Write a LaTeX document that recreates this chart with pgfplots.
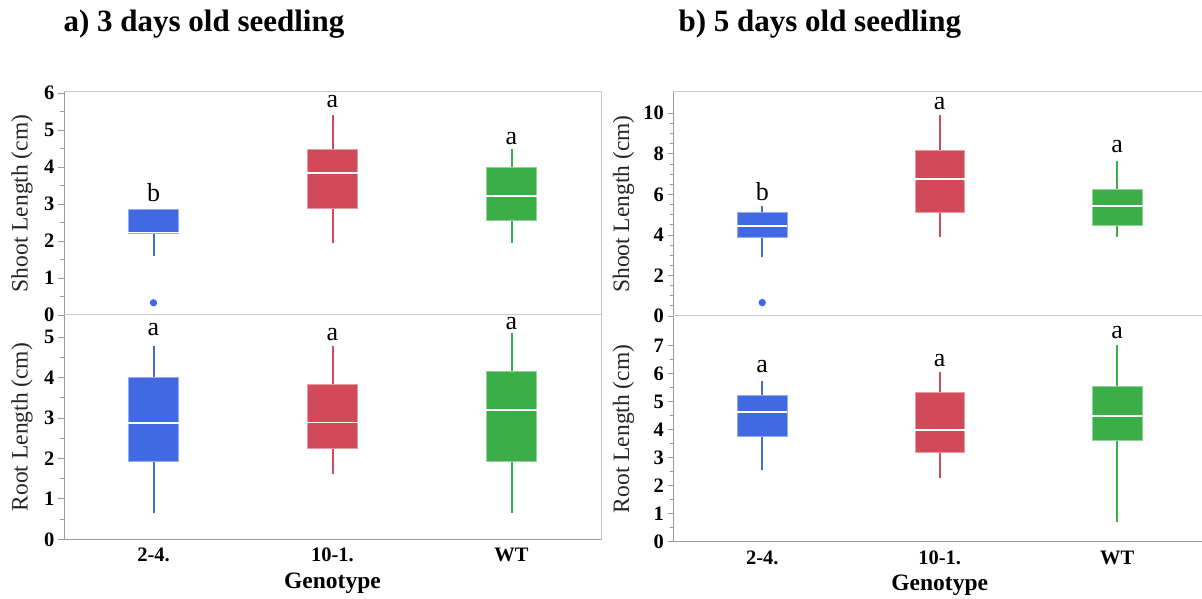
\documentclass[border=0pt]{standalone}
\usepackage{fontspec}
\setmainfont{Liberation Serif}
\usepackage{pgfplots}
\pgfplotsset{compat=1.18}
\usepgfplotslibrary{statistics}

\definecolor{cBlue}{RGB}{65,105,225}
\definecolor{cRed}{RGB}{210,74,90}
\definecolor{cGreen}{RGB}{60,174,72}
\definecolor{spine}{RGB}{155,155,155}
\definecolor{frame}{RGB}{200,200,200}

\newcommand{\ticksize}{\bfseries\fontsize{20.5}{20.5}\selectfont}
\newcommand{\labsize}{\fontsize{23.5}{23.5}\selectfont}
\newcommand{\letsize}{\fontsize{26}{26}\selectfont}

\pgfplotsset{
  seedling/.style={
    scale only axis,
    clip=false,
    xmin=-0.5, xmax=2.5,
    ymin=0,
    axis line style={draw=frame, line width=1pt},
    tick style={draw=spine, line width=0.8pt},
    tick align=outside,
    major tick length=6pt, minor tick length=4pt,
    ytick pos=left,
    xtick pos=bottom,
    minor y tick num=1,
    /pgf/number format/assume math mode=true,
    yticklabel style={font=\ticksize, text=black},
    every axis y label/.style={at={(rel axis cs:0,0.5)}, rotate=90,
      anchor=center, font=\labsize, text=black!85},
    boxplot/draw direction=y,
    boxplot/box extend=0.28,
    boxplot/whisker extend=0,
    boxplot/every median/.style={draw=white, line width=1.8pt},
  },
  shootaxis/.style={seedling, xtick=\empty},
  rootaxis/.style={seedling,
    xtick={0,1,2}, xticklabels={2-4.,10-1.,WT},
    major x tick style={draw=none},
    xticklabel style={font=\ticksize, anchor=center, yshift=-10pt},
    xlabel={\bfseries Genotype},
    every axis x label/.style={at={(rel axis cs:0.5,0)}, anchor=center,
      yshift=-44pt, font=\labsize},
  },
  bx/.style={draw=#1, fill=#1, line width=2pt,
    mark=*, mark size=2.6pt, mark options={fill=#1, draw=none},
    boxplot/every box/.style={fill=#1, draw=#1!55!white, line width=0.6pt}},
}

\begin{document}
\begin{tikzpicture}
\useasboundingbox (0pt,0pt) rectangle (1202pt,599pt);

% panel titles
\node[anchor=west, font=\bfseries\fontsize{31}{31}\selectfont] at (60pt,575pt) {a) 3 days old seedling};
\node[anchor=west, font=\bfseries\fontsize{31}{31}\selectfont] at (675pt,575pt) {b) 5 days old seedling};

% ---------- a) shoot length, day 3 ----------
\begin{axis}[shootaxis, at={(64pt,284pt)}, anchor=south west,
  width=537pt, height=223pt, ymax=6.03, ytick={0,...,6},
  ylabel={Shoot Length (cm)}, ylabel style={yshift=42pt}]
  \addplot[bx=cBlue, boxplot prepared={draw position=0,
    lower whisker=1.6, lower quartile=2.2, median=2.23,
    upper quartile=2.86, upper whisker=2.86}] coordinates {(0,0.33)};
  \addplot[bx=cRed, boxplot prepared={draw position=1,
    lower whisker=1.94, lower quartile=2.88, median=3.85,
    upper quartile=4.48, upper whisker=5.42}] coordinates {};
  \addplot[bx=cGreen, boxplot prepared={draw position=2,
    lower whisker=1.94, lower quartile=2.57, median=3.22,
    upper quartile=3.99, upper whisker=4.48}] coordinates {};
  \draw[spine, line width=1pt] (rel axis cs:0,0) -- (rel axis cs:0,1);
  \node[font=\letsize] at (axis cs:0,3.32) {b};
  \node[font=\letsize] at (axis cs:1,5.76) {a};
  \node[font=\letsize] at (axis cs:2,4.77) {a};
\end{axis}

% ---------- a) root length, day 3 ----------
\begin{axis}[rootaxis, at={(64pt,59.7pt)}, anchor=south west,
  width=537pt, height=224.3pt, ymax=5.55, ytick={0,...,5},
  ylabel={Root Length (cm)}, ylabel style={yshift=42pt}]
  \addplot[bx=cBlue, boxplot prepared={draw position=0,
    lower whisker=0.66, lower quartile=1.94, median=2.87,
    upper quartile=4.0, upper whisker=4.78}] coordinates {};
  \addplot[bx=cRed, boxplot prepared={draw position=1,
    lower whisker=1.61, lower quartile=2.25, median=2.89,
    upper quartile=3.83, upper whisker=4.78}] coordinates {};
  \addplot[bx=cGreen, boxplot prepared={draw position=2,
    lower whisker=0.66, lower quartile=1.94, median=3.2,
    upper quartile=4.16, upper whisker=5.11}] coordinates {};
  \draw[spine, line width=1pt] (rel axis cs:0,1) -- (rel axis cs:0,0) -- (rel axis cs:1,0);
  \node[font=\letsize] at (axis cs:0,5.18) {a};
  \node[font=\letsize] at (axis cs:1,5.07) {a};
  \node[font=\letsize] at (axis cs:2,5.35) {a};
\end{axis}

% ---------- b) shoot length, day 5 ----------
\begin{axis}[shootaxis, at={(673.5pt,283pt)}, anchor=south west,
  width=532.5pt, height=224pt, ymax=11.05, ytick={0,2,...,10},
  minor y tick num=3,
  ylabel={Shoot Length (cm)}, ylabel style={yshift=50pt}]
  \addplot[bx=cBlue, boxplot prepared={draw position=0,
    lower whisker=2.93, lower quartile=3.88, median=4.45,
    upper quartile=5.11, upper whisker=5.43}] coordinates {(0,0.66)};
  \addplot[bx=cRed, boxplot prepared={draw position=1,
    lower whisker=3.88, lower quartile=5.13, median=6.74,
    upper quartile=8.16, upper whisker=9.92}] coordinates {};
  \addplot[bx=cGreen, boxplot prepared={draw position=2,
    lower whisker=3.88, lower quartile=4.49, median=5.44,
    upper quartile=6.25, upper whisker=7.66}] coordinates {};
  \draw[spine, line width=1pt] (rel axis cs:0,0) -- (rel axis cs:0,1);
  \node[font=\letsize] at (axis cs:0,6.15) {b};
  \node[font=\letsize] at (axis cs:1,10.49) {a};
  \node[font=\letsize] at (axis cs:2,8.34) {a};
\end{axis}

% ---------- b) root length, day 5 ----------
\begin{axis}[rootaxis, at={(673.5pt,57.3pt)}, anchor=south west,
  width=532.5pt, height=225.7pt, ymax=8.06, ytick={0,...,7},
  ylabel={Root Length (cm)}, ylabel style={yshift=50pt}]
  \addplot[bx=cBlue, boxplot prepared={draw position=0,
    lower whisker=2.56, lower quartile=3.75, median=4.62,
    upper quartile=5.24, upper whisker=5.75}] coordinates {};
  \addplot[bx=cRed, boxplot prepared={draw position=1,
    lower whisker=2.26, lower quartile=3.21, median=3.99,
    upper quartile=5.34, upper whisker=6.05}] coordinates {};
  \addplot[bx=cGreen, boxplot prepared={draw position=2,
    lower whisker=0.69, lower quartile=3.61, median=4.5,
    upper quartile=5.54, upper whisker=7.02}] coordinates {};
  \draw[spine, line width=1pt] (rel axis cs:0,1) -- (rel axis cs:0,0) -- (rel axis cs:1,0);
  \node[font=\letsize] at (axis cs:0,6.26) {a};
  \node[font=\letsize] at (axis cs:1,6.48) {a};
  \node[font=\letsize] at (axis cs:2,7.46) {a};
\end{axis}
\end{tikzpicture}
\end{document}
